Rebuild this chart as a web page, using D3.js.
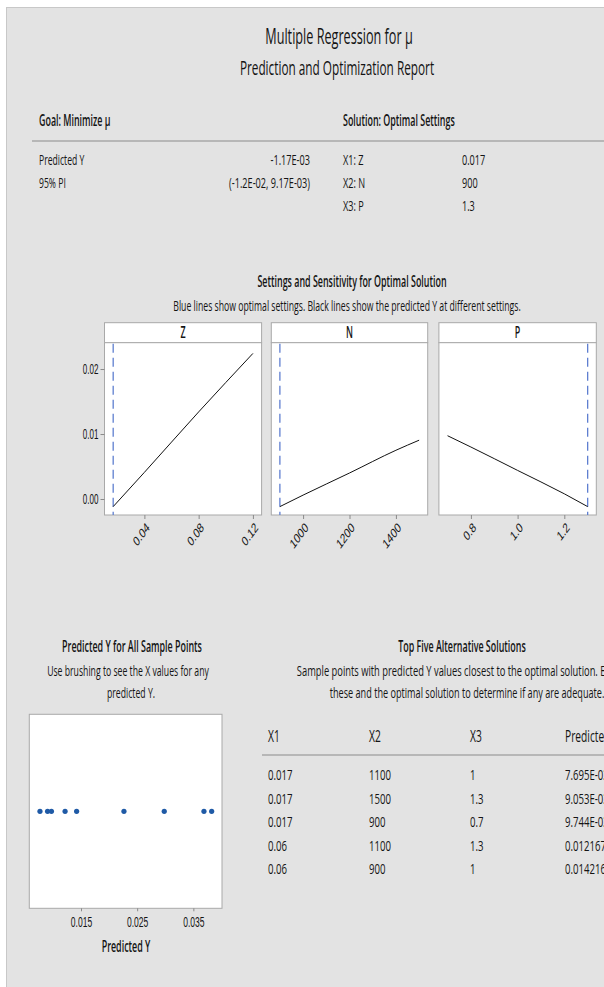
<!DOCTYPE html>
<html>
<head>
<meta charset="utf-8">
<script src="https://cdn.jsdelivr.net/npm/d3@7"></script>
<style>
  body { margin: 0; background: #fff; }
  svg { display: block; font-family: "Open Sans", "Noto Sans", sans-serif; }
</style>
</head>
<body>
<div id="report"></div>
<script>
// ---- values ----
const factorNames = ["Z", "N", "P"];
const optimalSettings = [0.017, 900, 1.3];

// sensitivity curves (predicted Y at different settings)
const zGrid = [0.017, 0.04, 0.08, 0.12];
const zPred = [-0.00117, 0.0041, 0.0134, 0.0224];
const nGrid = [900, 1000, 1200, 1400, 1500];
const nPred = [-0.00117, 0.0006, 0.0040, 0.0075, 0.00905];
const pGrid = [0.7, 0.8, 1.0, 1.2, 1.3];
const pPred = [0.00974, 0.0080, 0.0044, 0.0008, -0.00117];

const yTicks = [0, 0.01, 0.02];
const zTicks = [0.04, 0.08, 0.12];
const nTicks = [1000, 1200, 1400];
const pTicks = [0.8, 1.0, 1.2];

// predicted Y for all sample points
const samplePred = [0.0077, 0.00905, 0.00974, 0.01217, 0.01422, 0.02265, 0.02982, 0.03689, 0.03826];
const sampleTicks = [0.015, 0.025, 0.035];

// top five alternative solutions
const altX1 = ["0.017", "0.017", "0.017", "0.06", "0.06"];
const altX2 = ["1100", "1500", "900", "1100", "900"];
const altX3 = ["1", "1.3", "0.7", "1.3", "1"];
const altPred = ["7.695E-03", "9.053E-03", "9.744E-03", "0.012167", "0.014216"];

// ---- drawing ----
const W = 604, H = 987;
const SX = 0.575;          // the report font is narrow
const BODY_SX = 0.61;
const ink = "#141414", frame = "#a9a9a9";

const svg = d3.select("#report").append("svg")
    .attr("width", W)
    .attr("height", H);

svg.append("rect")
    .attr("x", 6.5).attr("y", 7.5)
    .attr("width", W).attr("height", H)
    .attr("fill", "#e3e3e3")
    .attr("stroke", "#c8c8c8");

function label(x, y, s, o = {}) {
    return svg.append("text")
        .attr("transform", `translate(${x},${y}) scale(${o.sx || BODY_SX},1)`)
        .attr("text-anchor", o.anchor || "start")
        .attr("font-size", o.size || 15)
        .attr("font-weight", o.weight || 400)
        .attr("fill", ink)
        .text(s);
}

// header
label(339, 44, "Multiple Regression for μ", {anchor: "middle", size: 22, sx: SX});
label(337, 75, "Prediction and Optimization Report", {anchor: "middle", size: 20.5, sx: SX});

label(39, 126, "Goal: Minimize μ", {size: 15.5, weight: 600, sx: SX});
label(343, 126, "Solution: Optimal Settings", {size: 15.5, weight: 600, sx: SX});
svg.append("line")
    .attr("x1", 32).attr("x2", W).attr("y1", 141).attr("y2", 141)
    .attr("stroke", frame).attr("stroke-width", 1.5);

label(39, 165, "Predicted Y", {sx: SX});
label(310, 165, "-1.17E-03", {anchor: "end"});
label(39, 188, "95% PI", {sx: SX});
label(310, 188, "(-1.2E-02, 9.17E-03)", {anchor: "end"});
factorNames.forEach((f, i) => {
    label(343, 165 + i * 23, `X${i + 1}: ${f}`);
    label(462, 165 + i * 23, String(optimalSettings[i]));
});

// sensitivity panels
label(352, 287, "Settings and Sensitivity for Optimal Solution", {anchor: "middle", size: 15.5, weight: 600, sx: SX});
label(347, 311, "Blue lines show optimal settings. Black lines show the predicted Y at different settings.", {anchor: "middle", size: 14.5, sx: 0.6});

const stripTop = 322.7, plotTop = 342.7, plotBottom = 515;
const panels = [
    {grid: zGrid, pred: zPred, ticks: zTicks, fmt: d3.format(".2f"), domain: [0.0106, 0.1264], x0: 104.5, x1: 261.6},
    {grid: nGrid, pred: nPred, ticks: nTicks, fmt: d3.format("d"), domain: [863, 1537], x0: 271.3, x1: 427.7},
    {grid: pGrid, pred: pPred, ticks: pTicks, fmt: d3.format(".1f"), domain: [0.663, 1.337], x0: 438.9, x1: 596.3}
];

const y = d3.scaleLinear()
    .domain([-0.00246, 0.02405])
    .range([plotBottom, plotTop]);

panels.forEach((p, i) => {
    const x = d3.scaleLinear().domain(p.domain).range([p.x0, p.x1]);
    const g = svg.append("g");

    g.append("rect")
        .attr("x", p.x0).attr("y", stripTop)
        .attr("width", p.x1 - p.x0).attr("height", plotTop - stripTop)
        .attr("fill", "#fff").attr("stroke", frame);
    g.append("rect")
        .attr("x", p.x0).attr("y", plotTop)
        .attr("width", p.x1 - p.x0).attr("height", plotBottom - plotTop)
        .attr("fill", "#fff").attr("stroke", frame);

    label((p.x0 + p.x1) / 2, 338, factorNames[i], {anchor: "middle", size: 15.5, weight: 600, sx: SX});

    // optimal setting
    g.append("line")
        .attr("x1", x(optimalSettings[i])).attr("x2", x(optimalSettings[i]))
        .attr("y1", plotTop + 1).attr("y2", plotBottom)
        .attr("stroke", "#5f7fd0").attr("stroke-width", 1.3)
        .attr("stroke-dasharray", "9,5");

    // predicted Y curve
    const pts = p.grid.map((v, k) => [v, p.pred[k]]);
    g.append("path")
        .datum(pts)
        .attr("d", d3.line().x(d => x(d[0])).y(d => y(d[1])).curve(d3.curveMonotoneX))
        .attr("fill", "none")
        .attr("stroke", "#111")
        .attr("stroke-width", 1);

    const xAxis = svg.append("g")
        .attr("transform", `translate(0,${plotBottom})`)
        .call(d3.axisBottom(x).tickValues(p.ticks).tickFormat(p.fmt).tickSize(4));
    xAxis.select(".domain").remove();
    xAxis.selectAll("line").attr("stroke", "#8a8a8a");
    xAxis.selectAll("text")
        .attr("x", 0).attr("y", 0).attr("dy", "0.35em")
        .attr("transform", "translate(3,10) scale(0.72,1) rotate(-45)")
        .attr("text-anchor", "end")
        .attr("font-size", 13.5)
        .attr("font-family", "inherit")
        .attr("fill", ink);

    if (i === 0) {
        const yAxis = svg.append("g")
            .attr("transform", `translate(${p.x0},0)`)
            .call(d3.axisLeft(y).tickValues(yTicks).tickFormat(d3.format(".2f")).tickSize(4));
        yAxis.select(".domain").remove();
        yAxis.selectAll("line").attr("stroke", "#8a8a8a");
        yAxis.selectAll("text")
            .attr("x", 0).attr("dy", "0.35em")
            .attr("transform", `translate(-6,0) scale(${SX},1)`)
            .attr("font-size", 14)
            .attr("font-family", "inherit")
            .attr("fill", ink);
    }
});

// predicted Y for all sample points
label(132, 652, "Predicted Y for All Sample Points", {anchor: "middle", size: 15.5, weight: 600, sx: SX});
label(128, 676, "Use brushing to see the X values for any", {anchor: "middle", size: 14.5, sx: 0.6});
label(131, 698, "predicted Y.", {anchor: "middle", size: 14.5, sx: 0.6});

const bx0 = 29.3, bx1 = 222, by0 = 714.3, by1 = 908.3;
const sx = d3.scaleLinear().domain([0.0058, 0.0401]).range([bx0, bx1]);

svg.append("rect")
    .attr("x", bx0).attr("y", by0)
    .attr("width", bx1 - bx0).attr("height", by1 - by0)
    .attr("fill", "#fff").attr("stroke", frame);

svg.append("g").selectAll("circle")
    .data(samplePred)
    .join("circle")
    .attr("cx", d => sx(d))
    .attr("cy", (by0 + by1) / 2)
    .attr("r", 2.6)
    .attr("fill", "#1f5aa6");

const sAxis = svg.append("g")
    .attr("transform", `translate(0,${by1})`)
    .call(d3.axisBottom(sx).tickValues(sampleTicks).tickFormat(d3.format(".3f")).tickSize(3));
sAxis.select(".domain").remove();
sAxis.selectAll("line").attr("stroke", "#8a8a8a");
sAxis.selectAll("text")
    .attr("y", 0).attr("dy", 0)
    .attr("transform", `translate(0,19) scale(${BODY_SX},1)`)
    .attr("font-size", 14)
    .attr("font-family", "inherit")
    .attr("fill", ink);

label(126, 952, "Predicted Y", {anchor: "middle", size: 15.5, weight: 600, sx: SX});

// top five alternative solutions
label(462, 652, "Top Five Alternative Solutions", {anchor: "middle", size: 15.5, weight: 600, sx: SX});
label(467, 676, "Sample points with predicted Y values closest to the optimal solution. Evaluate", {anchor: "middle", size: 14.5, sx: 0.645});
label(467, 698, "these and the optimal solution to determine if any are adequate.", {anchor: "middle", size: 14.5, sx: 0.63});

const colX = [268, 369, 470, 565];
["X1", "X2", "X3", "Predicted Y"].forEach((h, i) => label(colX[i], 742, h, {size: 15.5, sx: 0.66}));
svg.append("line")
    .attr("x1", 262).attr("x2", W).attr("y1", 755).attr("y2", 755)
    .attr("stroke", frame).attr("stroke-width", 1.5);

altX1.forEach((v, r) => {
    const yy = 780 + r * 23.5;
    [v, altX2[r], altX3[r], altPred[r]].forEach((s, c) => label(colX[c], yy, s, {sx: 0.64}));
});
</script>
</body>
</html>
